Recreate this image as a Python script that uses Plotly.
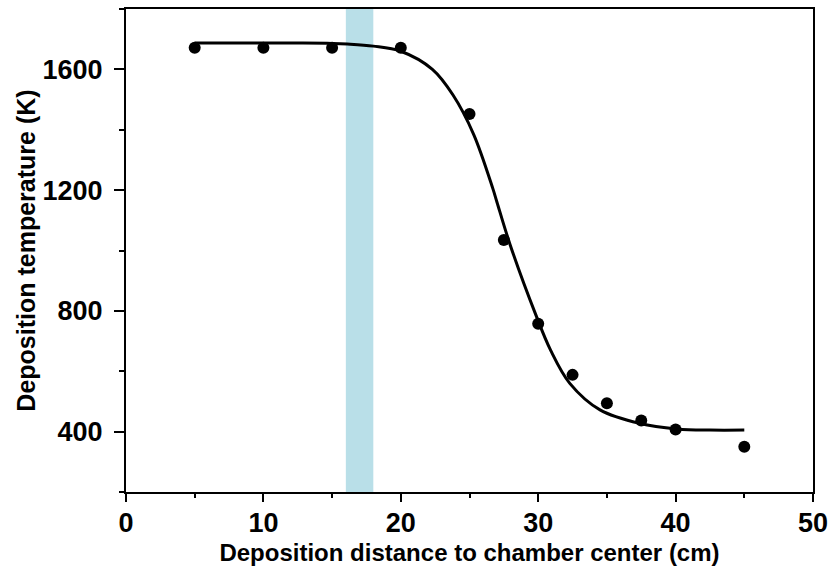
import plotly.graph_objects as go

# Measured data points
dist_cm = [5, 10, 15, 20, 25, 27.5, 30, 32.5, 35, 37.5, 40, 45]
temp_K = [1672, 1672, 1672, 1672, 1452, 1035, 757, 588, 494, 437, 407, 350]

# Fitted curve
fit_x = [5, 10, 12.7, 15, 16.1, 18, 20, 22.3, 23.8, 25.3, 26.7, 27.0, 27.95, 29.8, 30.9, 32.3, 34.5, 37.4, 40.1, 42.5, 45]
fit_y = [1687, 1687, 1687, 1686, 1684, 1677, 1660, 1600, 1515, 1385, 1205, 1160, 1020, 790, 670, 560, 472, 427, 409, 405, 405]

# Highlight band (cm)
band = [16, 18]

xticks = [0, 10, 20, 30, 40, 50]
yticks = [400, 800, 1200, 1600]

FONT = "Liberation Sans, Arial, sans-serif"

fig = go.Figure()
fig.add_vrect(x0=band[0], x1=band[1], fillcolor="#b9dfe8", line_width=0,
              layer="below", opacity=1)
fig.add_trace(go.Scatter(x=fit_x, y=fit_y, mode="lines",
                         line=dict(color="black", width=3, shape="spline", smoothing=1.0),
                         showlegend=False, hoverinfo="skip"))
fig.add_trace(go.Scatter(x=dist_cm, y=temp_K, mode="markers",
                         marker=dict(color="black", size=12),
                         showlegend=False))

axis_common = dict(showline=True, linecolor="black", linewidth=2, mirror=True,
                   showgrid=False, zeroline=False, ticks="outside",
                   tickcolor="black", tickwidth=2, automargin=False,
                   tickfont=dict(family=FONT, size=27, color="black", weight="bold"))

fig.update_xaxes(range=[0, 50], tickvals=xticks, ticklen=8,
                 minor=dict(dtick=5, ticks="outside", ticklen=4, tickwidth=2, tickcolor="black"),
                 title=dict(text="Deposition distance to chamber center (cm)",
                            font=dict(family=FONT, size=24, color="black", weight="bold"),
                            standoff=7),
                 ticklabelstandoff=-2,
                 **axis_common)
fig.update_yaxes(range=[200, 1800], tickvals=yticks, ticklen=10,
                 minor=dict(dtick=200, ticks="outside", ticklen=5, tickwidth=2, tickcolor="black"),
                 title=dict(text="Deposition temperature (K)",
                            font=dict(family=FONT, size=25, color="black", weight="bold"),
                            standoff=0),
                 ticklabelstandoff=6,
                 **axis_common)

fig.update_layout(width=835, height=571,
                  margin=dict(l=126, r=22, t=9, b=79),
                  plot_bgcolor="white", paper_bgcolor="white")

fig.write_html("out.html", config={"displayModeBar": False},
               post_script="document.body.style.margin='0';document.body.style.overflow='hidden';")
